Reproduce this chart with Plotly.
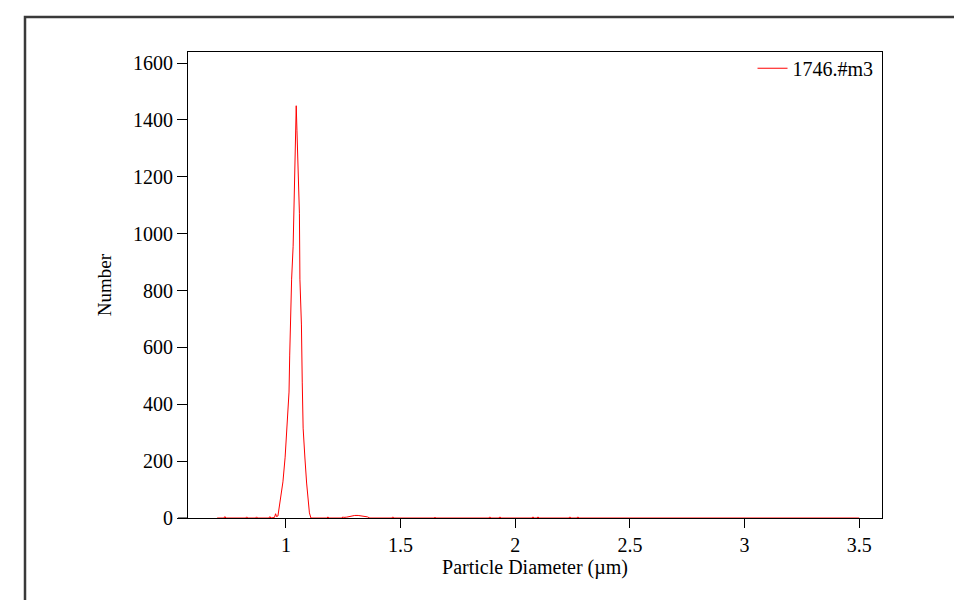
import plotly.graph_objects as go

# Particle diameter (µm) and number counts
diameter_um = [0.700, 0.730, 0.734, 0.738, 0.825, 0.829, 0.833, 0.868, 0.872, 0.876,
               0.926, 0.930, 0.934, 0.950, 0.955, 0.959, 0.9651, 0.9738, 0.9869,
               0.9965, 1.0044, 1.0135, 1.0165, 1.0200, 1.0248, 1.0314, 1.0384,
               1.0436, 1.0449, 1.0480, 1.0523, 1.0588, 1.0610, 1.0676, 1.0711,
               1.0750, 1.0828, 1.0902, 1.1024, 1.1090, 1.180, 1.183, 1.187,
               1.245, 1.248, 1.252, 1.265, 1.285, 1.300, 1.315, 1.335, 1.355,
               1.366, 1.462, 1.466, 1.470, 1.646, 1.650, 1.654, 1.885, 1.889,
               1.893, 1.929, 1.933, 1.937, 2.073, 2.077, 2.081, 2.095, 2.099,
               2.103, 2.234, 2.238, 2.242, 2.269, 2.273, 2.277, 3.500]
number = [0, 0, 5, 0, 0, 4, 0, 0, 4, 0,
          0, 5, 0, 2, 15, 5, 7, 53, 127,
          214, 316, 443, 573, 707, 840, 956, 1206,
          1364, 1450, 1364, 1206, 1072, 840, 679, 478,
          316, 211, 123, 18, 0, 0, 4, 0,
          0, 4, 2, 3, 7, 9, 9, 7, 4,
          0, 0, 4, 0, 0, 3, 0, 0, 4,
          0, 0, 4, 0, 0, 4, 0, 0, 4,
          0, 0, 4, 0, 0, 4, 0, 0]

x_ticks = [1, 1.5, 2, 2.5, 3, 3.5]
x_tick_labels = ["1", "1.5", "2", "2.5", "3", "3.5"]
y_ticks = [0, 200, 400, 600, 800, 1000, 1200, 1400, 1600]

FONT = "Liberation Serif, Times New Roman, serif"

fig = go.Figure()
fig.add_trace(go.Scatter(
    x=diameter_um, y=number, mode="lines", name="1746.#m3",
    line=dict(color="#ff0000", width=1),
))

fig.update_layout(
    width=954, height=600,
    margin=dict(l=188, r=72, t=52, b=82),
    paper_bgcolor="white", plot_bgcolor="white",
    font=dict(family=FONT, size=20, color="black"),
    showlegend=True,
    legend=dict(x=0.995, y=1.007, xanchor="right", yanchor="top",
                bgcolor="rgba(0,0,0,0)", font=dict(family=FONT, size=20)),
    xaxis=dict(
        range=[0.573, 3.599], tickvals=x_ticks, ticktext=x_tick_labels,
        ticks="outside", ticklen=9, tickcolor="black", tickwidth=1,
        showline=True, linecolor="black", linewidth=1, mirror=True,
        showgrid=False, zeroline=False,
        title=dict(text="Particle Diameter (µm)", standoff=2,
                   font=dict(family=FONT, size=20)),
        automargin=False,
    ),
    yaxis=dict(
        range=[0, 1639], tickvals=y_ticks,
        ticks="outside", ticklen=10, tickcolor="black", tickwidth=1,
        showline=True, linecolor="black", linewidth=1, mirror=True,
        showgrid=False, zeroline=False,
        title=dict(text="Number", standoff=16,
                   font=dict(family=FONT, size=19)),
        automargin=False,
    ),
    shapes=[
        # outer frame
        dict(type="rect", xref="paper", yref="paper",
             x0=(25 - 188) / 694, x1=(975 - 188) / 694,
             y0=(518 - 625) / 466, y1=(518 - 17) / 466,
             line=dict(color="#3a3a3a", width=2.5), layer="below"),
        # bottom axis extension to the left
        dict(type="line", xref="paper", yref="paper",
             x0=(178 - 188) / 694, x1=0, y0=0, y1=0,
             line=dict(color="black", width=1)),
    ],
)

fig.write_html(
    "out.html",
    config={"displayModeBar": False},
    post_script="document.body.style.margin='0';document.body.style.overflow='hidden';",
)
